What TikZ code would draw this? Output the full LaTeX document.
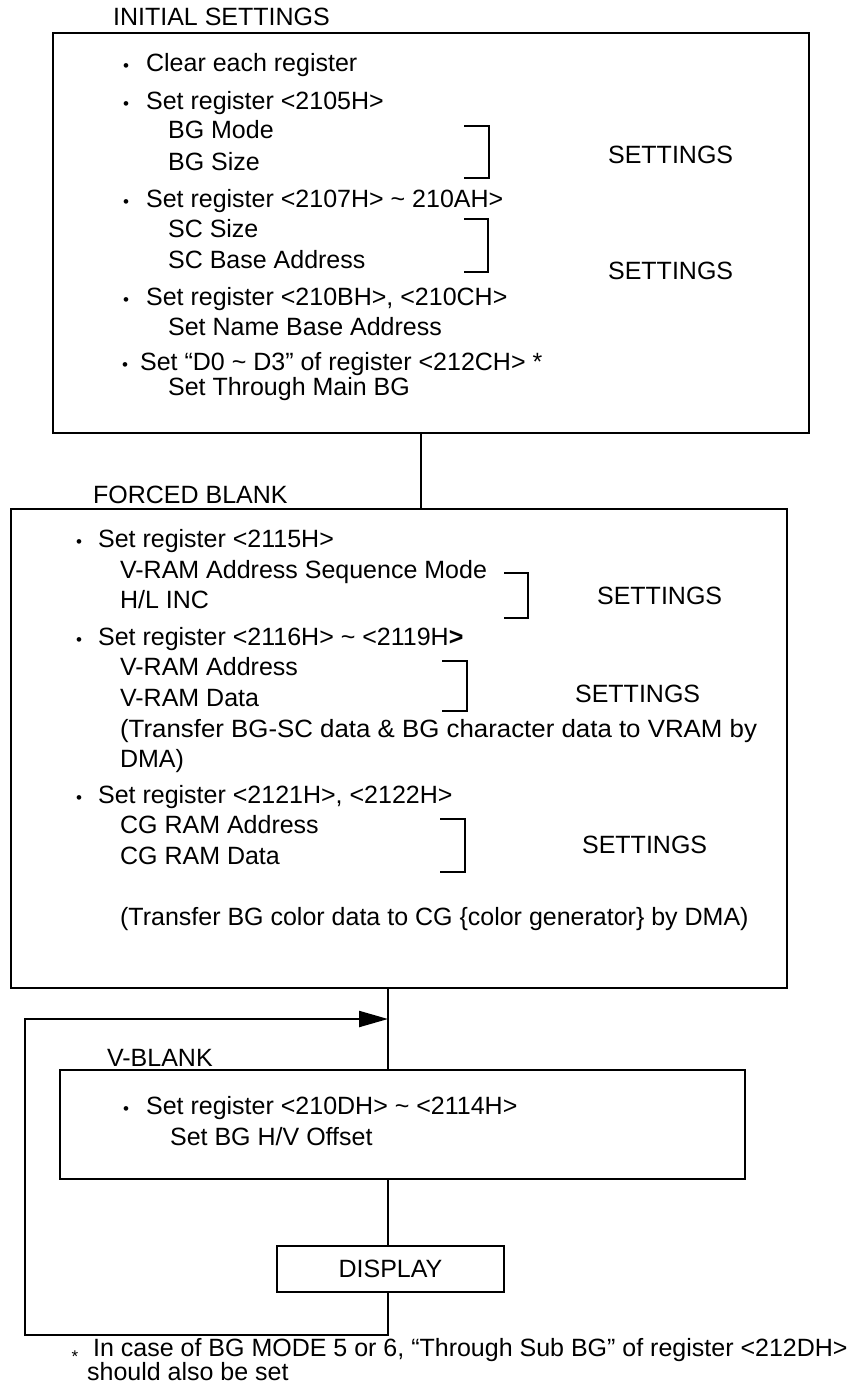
\documentclass[tikz,border=0pt]{standalone}
\usepackage{fontspec}
\usepackage{graphicx}
\setmainfont{Liberation Sans}
\usetikzlibrary{arrows.meta,calc}
\begin{document}
\begin{tikzpicture}[x=1pt,y=-1pt,line width=2.2pt,
  box/.style={draw,line width=2.2pt,inner sep=0pt,anchor=north west},
  txt/.style={anchor=base west,inner sep=0pt,font=\fontsize{25}{29}\selectfont},
  bul/.style={anchor=base,inner sep=0pt,font=\fontsize{17}{17}\selectfont},
  smallstar/.style={anchor=base,inner sep=0pt,font=\fontsize{17}{17}\selectfont},
  brk/.style={line width=2.2pt}]
\useasboundingbox (0,0) rectangle (853,1386);

% ---------- boxes ----------
\node[box,minimum width=756pt,minimum height=400pt] (init) at (52,32) {};
\node[box,minimum width=776pt,minimum height=479pt] (forced) at (10,508) {};
\node[box,minimum width=685pt,minimum height=109pt] (vb) at (59,1069) {};
\node[draw,line width=2.2pt,minimum width=227pt,minimum height=46pt,inner sep=0pt,
      font=\fontsize{25}{29}\selectfont] (disp) at (390.5,1269) {DISPLAY};

% ---------- titles ----------
\node[txt] (tinit) at (112,26) {INITIAL SETTINGS};
\node[txt] (tforced) at (92,503) {FORCED BLANK};
\node[txt] (tvb) at (106,1066) {V-BLANK};

% ---------- initial settings ----------
\node[bul] (b1) at (126,72) {•};
\node[txt] (a1) at (145,72) {Clear each register};
\node[bul] (b2) at (126,110) {•};
\node[txt] (a2) at (145,110) {Set register <2105H>};
\node[txt] (a3) at (167,139) {BG Mode};
\node[txt] (a4) at (167,170) {BG Size};
\node[bul] (b3) at (126,207) {•};
\node[txt] (a5) at (145,207) {Set register <2107H> \textasciitilde{} 210AH>};
\node[txt] (a6) at (167,237) {SC Size};
\node[txt] (a7) at (167,268) {SC Base Address};
\node[bul] (b4) at (126,305) {•};
\node[txt] (a8) at (145,305) {Set register <210BH>, <210CH>};
\node[txt] (a9) at (167,335) {Set Name Base Address};
\node[bul] (b5) at (125,370) {•};
\node[txt] (a10) at (139,370) {Set “D0 \textasciitilde{} D3” of register <212CH> *};
\node[txt] (a11) at (167,395) {Set Through Main BG};
\node[txt] (s1) at (607,164) {SETTINGS};
\node[txt] (s2) at (607,279) {SETTINGS};
\draw[brk] (464,126) -- (489,126) -- (489,178) -- (464,178);
\draw[brk] (464,219) -- (488,219) -- (488,272) -- (464,272);

% ---------- forced blank ----------
\node[bul] (b6) at (79,547) {•};
\node[txt] (f1) at (97,547) {Set register <2115H>};
\node[txt] (f2) at (119,578) {V-RAM Address Sequence Mode};
\node[txt] (f3) at (119,608) {H/L INC};
\node[bul] (b7) at (79,645) {•};
\node[txt] (f4) at (97,645) {Set register <2116H> \textasciitilde{} <2119H\textbf{>}};
\node[txt] (f5) at (119,675) {V-RAM Address};
\node[txt] (f6) at (119,706) {V-RAM Data};
\node[txt] (f7) at (119,737) {\scalebox{1.034}[1]{(Transfer BG-SC data \& BG character data to VRAM by}};
\node[txt] (f8) at (119,767) {DMA)};
\node[bul] (b8) at (79,803) {•};
\node[txt] (f9) at (97,803) {Set register <2121H>, <2122H>};
\node[txt] (f10) at (119,833) {CG RAM Address};
\node[txt] (f11) at (119,864) {CG RAM Data};
\node[txt] (f12) at (119,925) {(Transfer BG color data to CG \{color generator\} by DMA)};
\node[txt] (s3) at (596,604) {SETTINGS};
\node[txt] (s4) at (574,702) {SETTINGS};
\node[txt] (s5) at (581,853) {SETTINGS};
\draw[brk] (504,573) -- (528,573) -- (528,618) -- (504,618);
\draw[brk] (442,661) -- (467,661) -- (467,711) -- (442,711);
\draw[brk] (440,819) -- (465,819) -- (465,872) -- (440,872);

% ---------- v-blank ----------
\node[bul] (b9) at (126,1114) {•};
\node[txt] (v1) at (145,1114) {Set register <210DH> \textasciitilde{} <2114H>};
\node[txt] (v2) at (169,1145) {Set BG H/V Offset};

% ---------- connectors ----------
\coordinate (c1) at (421,0);
\coordinate (c2) at (388,0);
\coordinate (lb) at (25,1335);
\coordinate (lt) at (25,1019);
\coordinate (ar) at (388,1019);
\draw (init.south -| c1) -- (forced.north -| c1);
\draw (forced.south -| c2) -- (vb.north -| c2);
\draw (vb.south -| c2) -- (disp.north -| c2);
\draw[-{Triangle[length=29pt,width=16pt]}] (disp.south -| c2) |- (lb) -- (lt) -- (ar);

% ---------- footnote ----------
\node[smallstar] (star) at (75,1362) {*};
\node[txt] (n1) at (92,1356) {In case of BG MODE 5 or 6, “Through Sub BG” of register <212DH>};
\node[txt] (n2) at (86,1380) {should also be set};
\end{tikzpicture}
\end{document}
